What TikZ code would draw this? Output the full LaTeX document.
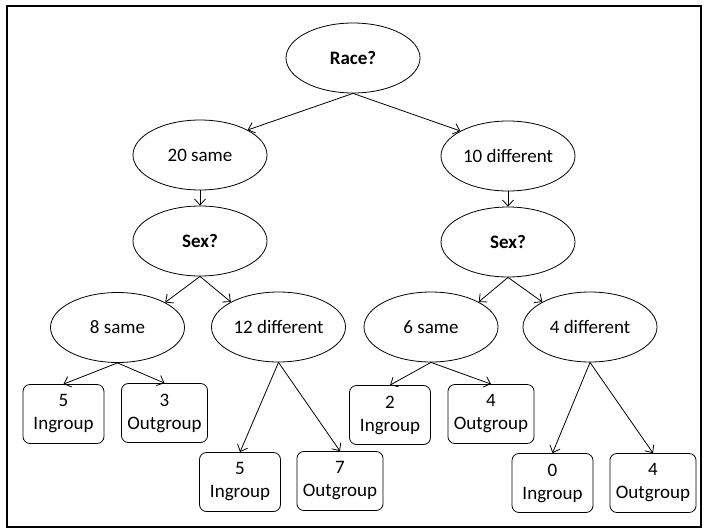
\documentclass[tikz,border=0pt]{standalone}
\usepackage{fontspec}
\setmainfont{Carlito}
\usetikzlibrary{arrows.meta,shapes.geometric}

\begin{document}
\begin{tikzpicture}[x=1pt,y=-1pt,
    split/.style={ellipse,draw,line width=0.8pt,minimum width=134pt,minimum height=70pt,inner sep=0pt,font=\fontsize{19}{23}\selectfont},
    leaf/.style={draw,line width=0.8pt,rounded corners=7pt,minimum width=81pt,minimum height=59pt,inner xsep=6pt,align=center,font=\fontsize{19}{23}\selectfont},
    arr/.style={line width=0.8pt,-{Straight Barb[length=6pt,width=11pt]}}]
    \useasboundingbox (0,0) rectangle (704,530);
    \draw[line width=1.6pt] (7,6) rectangle (701,527);
    % questions and branches
    \node[split] (race) at (353,58) {\textbf{Race?}};
    \node[split] (same20) at (200,155) {20 same};
    \node[split] (diff10) at (508,156) {10 different};
    \node[split] (sexL) at (200,241) {\textbf{Sex?}};
    \node[split] (sexR) at (508,242) {\textbf{Sex?}};
    \node[split] (same8) at (117.5,327.5) {8 same};
    \node[split] (diff12) at (278.5,327) {12 different};
    \node[split] (same6) at (431,327) {6 same};
    \node[split] (diff4) at (590,327) {4 different};
    % leaves
    \node[leaf] (in5a) at (63.5,414) {5\\Ingroup};
    \node[leaf] (out3) at (164.5,413) {3\\Outgroup};
    \node[leaf] (in2) at (390,415) {2\\Ingroup};
    \node[leaf] (out4a) at (491,414) {4\\Outgroup};
    \node[leaf] (in5b) at (240,482) {5\\Ingroup};
    \node[leaf] (out7) at (340,481) {7\\Outgroup};
    \node[leaf] (in0) at (552.5,483) {0\\Ingroup};
    \node[leaf] (out4b) at (653,483) {4\\Outgroup};
    % arrows
    \draw[arr] (race.south) -- (same20.north east);
    \draw[arr] (race.south) -- (diff10.north west);
    \draw[arr] (same20.south) -- (sexL.north);
    \draw[arr] (diff10.south) -- (sexR.north);
    \draw[arr] (sexL.south) -- (same8.north east);
    \draw[arr] (sexL.south) -- (diff12.north west);
    \draw[arr] (sexR.south) -- (same6.north east);
    \draw[arr] (sexR.south) -- (diff4.north west);
    \draw[arr] (same8.south) -- (in5a.north);
    \draw[arr] (same8.south) -- (out3.north);
    \draw[arr] (diff12.south) -- (in5b.north);
    \draw[arr] (diff12.south) -- (out7.north);
    \draw[arr] (same6.south) -- (in2.north);
    \draw[arr] (same6.south) -- (out4a.north);
    \draw[arr] (diff4.south) -- (in0.north);
    \draw[arr] (diff4.south) -- (out4b.north);
\end{tikzpicture}
\end{document}
